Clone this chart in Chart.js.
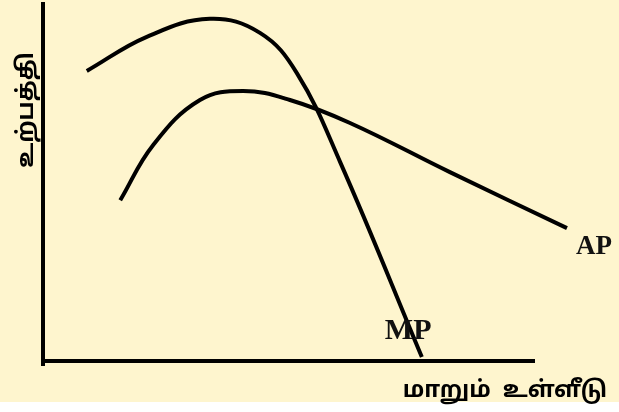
<!DOCTYPE html>
<html>
<head>
<meta charset="utf-8">
<script src="https://cdn.jsdelivr.net/npm/chart.js@4.4.1/dist/chart.umd.min.js"></script>
<style>
html,body{margin:0;padding:0;background:#ffffff;}
#wrap{width:619px;height:412px;position:relative;}
</style>
</head>
<body>
<div id="wrap"><canvas id="c" width="619" height="412"></canvas></div>
<script>
// Data (arbitrary units: x = variable input, y = output)
const mpX = [8.9, 21.1, 33.9, 44.1, 51.6, 60.4, 77.0];
const mpY = [80.8, 90.3, 95.3, 91.4, 80.2, 55.4, 1.1];
const apX = [15.7, 22.4, 31.9, 40.7, 50.2, 62.4, 82.7, 106.5];
const apY = [44.8, 60.2, 72.7, 75.2, 72.7, 66.3, 52.6, 37.0];
const seriesNames = ["MP", "AP"];
const xTitle = "மாறும்  உள்ளீடு";
const yTitle = "உற்பத்தி";

const toPts = (xs, ys) => xs.map((x, i) => ({x: x, y: ys[i]}));

const bgPlugin = {
  id: 'bg',
  beforeDraw(chart) {
    const ctx = chart.ctx;
    ctx.save();
    ctx.fillStyle = '#ffffff';
    ctx.fillRect(0, 0, chart.width, chart.height);
    ctx.fillStyle = 'rgb(254,245,206)';
    ctx.fillRect(0, 0, chart.width, 402);
    ctx.restore();
  }
};

const axesPlugin = {
  id: 'axesDraw',
  afterDatasetsDraw(chart) {
    const ctx = chart.ctx;
    const xs = chart.scales.x, ys = chart.scales.y;
    const x0 = xs.getPixelForValue(0), y0 = ys.getPixelForValue(0);
    const a = chart.chartArea;
    ctx.save();
    ctx.strokeStyle = '#000';
    ctx.lineWidth = 4;
    ctx.lineCap = 'butt';
    ctx.beginPath();
    ctx.moveTo(x0, a.top);
    ctx.lineTo(x0, y0 + 5);
    ctx.stroke();
    ctx.beginPath();
    ctx.moveTo(x0 - 2, y0);
    ctx.lineTo(a.right, y0);
    ctx.stroke();

    // series labels
    ctx.fillStyle = '#111';
    ctx.textBaseline = 'alphabetic';
    ctx.textAlign = 'left';
    ctx.font = 'bold 30px "Liberation Serif", "Times New Roman", serif';
    const mpEnd = chart.getDatasetMeta(0).data[mpX.length - 1];
    ctx.fillText(seriesNames[0], mpEnd.x - 37, mpEnd.y - 18);
    ctx.font = 'bold 27px "Liberation Serif", "Times New Roman", serif';
    const apEnd = chart.getDatasetMeta(1).data[apX.length - 1];
    ctx.fillText(seriesNames[1], apEnd.x + 9, apEnd.y + 26);

    // axis titles
    ctx.fillStyle = '#000';
    ctx.font = 'bold 23px "Noto Sans Tamil", "Latha", "Lohit Tamil", sans-serif';
    ctx.textAlign = 'center';
    ctx.fillText(xTitle, 505, 397);
    ctx.save();
    ctx.translate(33, 110);
    ctx.rotate(-Math.PI / 2);
    ctx.fillText(yTitle, 0, 0);
    ctx.restore();
    ctx.restore();
  }
};

new Chart(document.getElementById('c'), {
  type: 'scatter',
  data: {
    datasets: [
      {label: seriesNames[0], data: toPts(mpX, mpY), showLine: true, tension: 0.4,
       borderColor: '#000', borderWidth: 4, pointRadius: 0, fill: false, clip: false},
      {label: seriesNames[1], data: toPts(apX, apY), showLine: true, tension: 0.4,
       borderColor: '#000', borderWidth: 4, pointRadius: 0, fill: false, clip: false}
    ]
  },
  options: {
    responsive: false,
    animation: false,
    layout: {padding: {left: 43, right: 84, top: 2, bottom: 51}},
    plugins: {legend: {display: false}, tooltip: {enabled: false}},
    scales: {
      x: {type: 'linear', min: 0, max: 100, display: false},
      y: {type: 'linear', min: 0, max: 100, display: false}
    }
  },
  plugins: [bgPlugin, axesPlugin]
});
</script>
</body>
</html>
